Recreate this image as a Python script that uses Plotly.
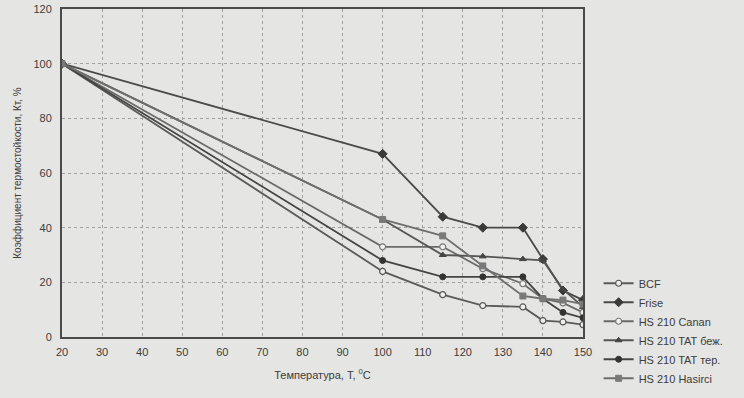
import plotly.graph_objects as go

temps = [20, 100, 115, 125, 135, 140, 145, 150]
bcf = [100, 24, 15.5, 11.5, 11, 6, 5.5, 4.5]
frise = [100, 67, 44, 40, 40, 28.5, 17, 13.5]
canan = [100, 33, 33, 25, 19.5, 14, 12.5, 9]
tat_bezh = [100, 43, 30, 29.5, 28.5, 28, 17.5, 11]
tat_ter = [100, 28, 22, 22, 22, 14, 9, 7]
hasirci = [100, 43, 37, 26, 15, 14, 13.5, 12]

names = ["BCF", "Frise", "HS 210 Canan", "HS 210 TAT беж.", "HS 210 TAT тер.", "HS 210 Hasirci"]
series = [bcf, frise, canan, tat_bezh, tat_ter, hasirci]
styles = [
    dict(symbol="circle", color="#eeeeee", line=dict(color="#555555", width=1.2), size=6),
    dict(symbol="diamond", color="#3a3a3a", line=dict(color="#3a3a3a", width=1), size=7),
    dict(symbol="circle", color="#f2f2f2", line=dict(color="#777777", width=1.2), size=6),
    dict(symbol="triangle-up", color="#444444", line=dict(color="#444444", width=1), size=6),
    dict(symbol="circle", color="#333333", line=dict(color="#333333", width=1), size=6),
    dict(symbol="square", color="#7a7a7a", line=dict(color="#7a7a7a", width=1), size=6),
]
line_colors = ["#5a5a5a", "#4a4a4a", "#6a6a6a", "#555555", "#444444", "#6e6e6e"]

fig = go.Figure()
for n, s, st, lc in zip(names, series, styles, line_colors):
    fig.add_trace(go.Scatter(x=temps, y=s, name=n, mode="lines+markers",
                             line=dict(color=lc, width=1.8), marker=st))

bg = "#e5e5e3"
fig.update_layout(
    width=744, height=398,
    margin=dict(l=62, r=161, t=9, b=61, autoexpand=False),
    paper_bgcolor=bg, plot_bgcolor=bg,
    font=dict(family="Liberation Sans, Arial", size=11, color="#3c3c3c"),
    showlegend=True,
    legend=dict(x=1.03, y=-0.17, xanchor="left", yanchor="bottom",
                bgcolor="rgba(0,0,0,0)", font=dict(size=11, color="#3c3c3c"),
                tracegroupgap=0, itemwidth=30),
)
fig.update_xaxes(range=[20, 150], tickvals=list(range(20, 151, 10)),
                 showgrid=True, gridcolor="#a0a0a0", griddash="dot", gridwidth=1,
                 showline=True, linecolor="#4a4a4a", linewidth=2, mirror=True,
                 ticks="", zeroline=False, automargin=False, ticklabelstandoff=4,
                 title=dict(text="Температура, T, <sup>0</sup>C", font=dict(size=11), standoff=14))
fig.update_yaxes(range=[0, 120], tickvals=list(range(0, 121, 20)),
                 showgrid=True, gridcolor="#a0a0a0", griddash="dot", gridwidth=1,
                 showline=True, linecolor="#4a4a4a", linewidth=2, mirror=True,
                 ticks="", zeroline=False, automargin=False, ticklabelstandoff=6,
                 title=dict(text="Коэффициент термостойкости, Кт, %", font=dict(size=10), standoff=10))

fig.write_html("out.html", config={"displayModeBar": False},
               post_script="document.body.style.margin='0';document.body.style.background='%s';" % bg)
